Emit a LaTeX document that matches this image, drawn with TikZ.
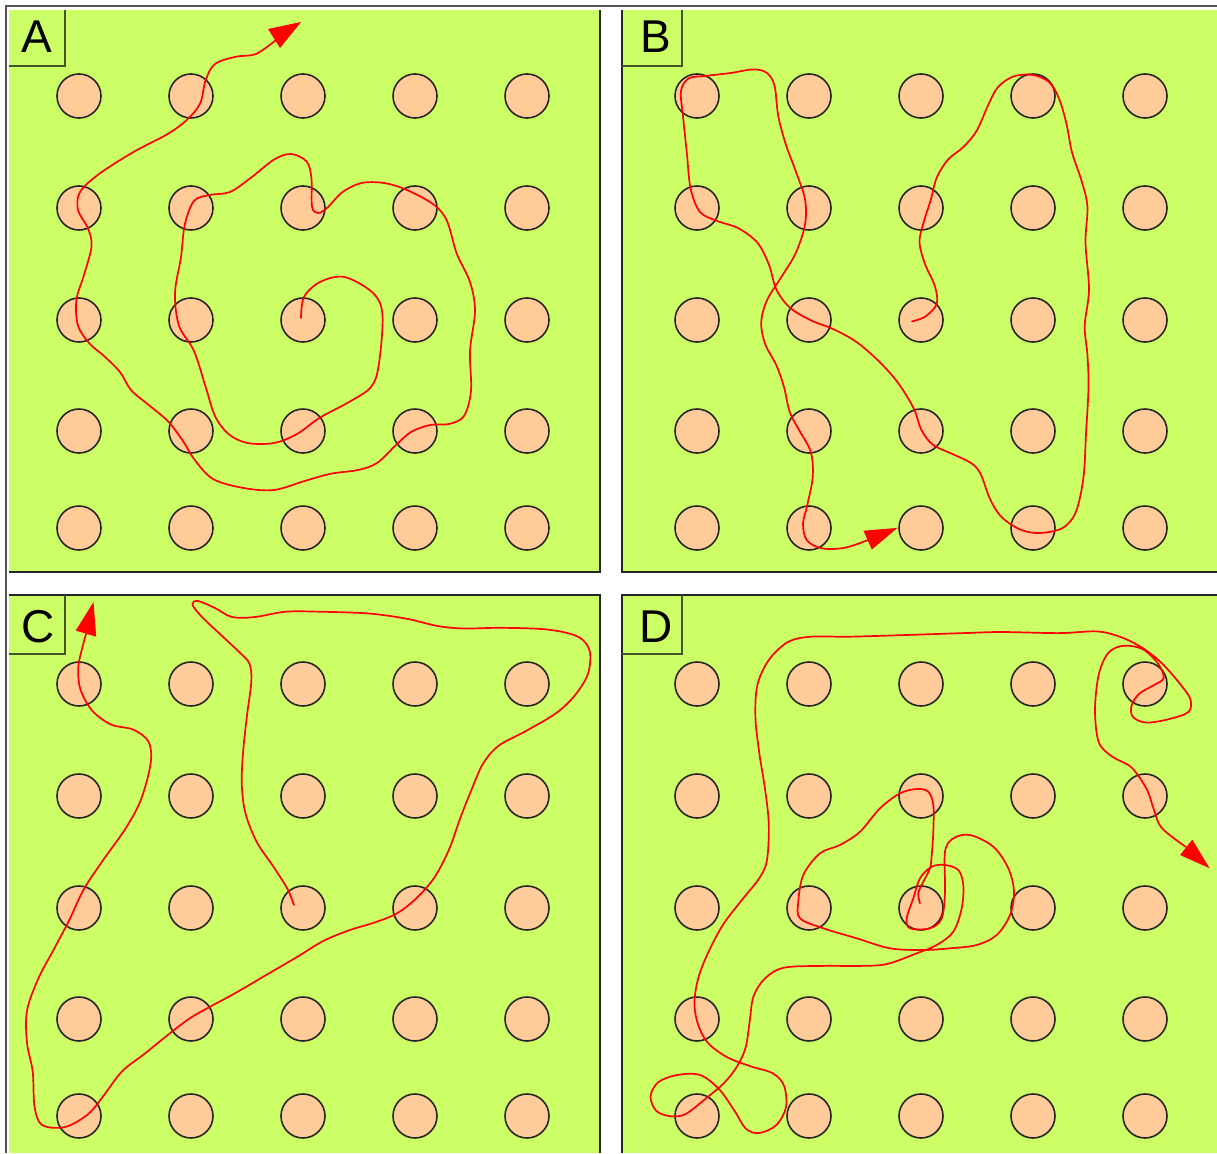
\documentclass[tikz,border=0pt]{standalone}
\usepackage{fontspec}
\newfontfamily\labfont{Liberation Sans}
\definecolor{lime1}{RGB}{204,255,102}
\definecolor{peach}{RGB}{255,204,153}
\definecolor{olive1}{RGB}{70,85,40}
\definecolor{frame1}{RGB}{85,85,85}
\begin{document}
\begin{tikzpicture}[x=1pt,y=-1pt,
  dot/.style={circle,draw=black!85,fill=peach,line width=1.6pt,minimum size=44pt,inner sep=0pt},
  walk/.style={draw=red,line width=1.7pt,line join=round,line cap=round},
  arrowfill/.style={fill=red},
  panelfill/.style={fill=lime1},
  pedge/.style={draw=black!85,line width=1.3pt},
  boxedge/.style={draw=olive1,line width=1.5pt},
  lab/.style={anchor=base,inner sep=0pt,font=\labfont\fontsize{46}{50}\selectfont}]
\useasboundingbox (0,0) rectangle (1217,1153);
\fill[white] (0,0) rectangle (1217,1153);
% panels
\fill[panelfill] (9,10) rectangle (600,572);
\fill[panelfill] (622,10) rectangle (1217,572);
\fill[panelfill] (9,595) rectangle (600,1153);
\fill[panelfill] (622,595) rectangle (1217,1153);
\draw[pedge] (600,10) -- (600,572) -- (9,572);
\draw[pedge] (622,10) -- (622,572) -- (1217,572);
\draw[pedge] (9,595) -- (600,595) -- (600,1153);
\draw[pedge] (1217,595) -- (622,595) -- (622,1153);
% outer frame
\draw[frame1,line width=1.2pt] (6,1153) -- (6,6) -- (1217,6);
% label boxes
\draw[boxedge] (9,66) -- (65,66) -- (65,10);
\draw[boxedge] (622,66) -- (682,66) -- (682,10);
\draw[boxedge] (9,654) -- (65,654) -- (65,595);
\draw[boxedge] (622,654) -- (682,654) -- (682,595);
\node[lab] (labA) at (36.5,53) {A};
\node[lab] (labB) at (656,53) {B};
\node[lab] (labC) at (38,642) {C};
\node[lab] (labD) at (656.5,642) {D};
% circles
\foreach \P/\ox/\oy in {A/0/0,B/618/0,C/0/588,D/618/588}{
  \foreach \c [count=\i] in {79,191,303,415,527}{
    \foreach \r [count=\j] in {96,208,320,431,528}{
      \node[dot] (\P\i\j) at (\c+\ox,\r+\oy) {};
    }
  }
}
% walk A
\draw[walk] plot[smooth,tension=0.55] coordinates {
(301,318) (304,297) (320,282) (344.5,277) (373,293) (382.5,315) (378.7,365.4) (371,387) (350,401.5) (319.8,417.7) (297,434) (274,443) (247.5,443) (228.5,434) (215,416) (205.7,387) (194,351) (179,325.7) (175,293) (181,257) (184.8,224.6) (194,201) (209.5,195) (230,192) (251,177.7) (274,159.6) (291,154) (306.5,161.4) (311.4,177.7) (312,206.6) (318,213) (327,208) (342.6,192) (361.6,183) (384,183) (407,190) (434,204.8) (447,221) (456.7,253.5) (470,282) (475,311) (470,351) (471,390.7) (464,416) (449,424) (430,425) (411,432) (396,445) (377,463) (358,470) (331,473.7) (304.6,481) (274,490) (243.7,488) (213,479) (194,459) (183,441) (167.7,421) (148.7,405) (131,390) (120,372) (104,356) (89.7,343.7) (78,325.7) (76.4,300) (84,275) (91.6,246) (87.8,228) (78,210) (80,192) (99,174) (133.5,152) (167.7,134) (186.7,120) (200,103.7) (205.7,80) (215,64) (236,56.7) (256,54) (276,40)};
\fill[arrowfill] (301,22) -- (268,29) -- (280,48) -- cycle;
% walk B
\draw[walk] plot[smooth,tension=0.55] coordinates {
(912,321.4) (925,316.7) (936.7,304) (934.8,286) (925,264) (919.5,242.7) (923,224.6) (931,199) (936.7,177.7) (948,159.6) (963.4,147) (976.7,130.7) (988,105.5) (997.7,87.4) (1013,76.6) (1032,74.8) (1049,82) (1058.8,98) (1066.4,123.5) (1072,152.4) (1081.6,181) (1087.4,206.6) (1085.5,242.7) (1089,289.6) (1084.7,325.7) (1087.4,354.6) (1088.5,387) (1086,434) (1083.5,477) (1076,511.6) (1062.6,528) (1039.7,533) (1020.6,529.7) (1001.5,517) (990,499) (980.5,473.7) (971,463) (952,453.8) (932.9,444.8) (921.4,430) (913.8,408.7) (898.5,383.5) (879.4,361.8) (856.5,342) (833.7,329.3) (810.8,320.3) (789.8,307.6) (776.4,289.6) (768.8,264.3) (757.4,242.7) (738.3,228.2) (717.3,221) (700,212) (690.6,188.5) (686.8,152.4) (683,116.3) (681,91) (688.7,78.4) (705.8,75.9) (730.6,73) (753.5,69.4) (766.9,73) (774.5,85.6) (778.3,116.3) (786,145) (795.5,170.5) (805,199.3) (805,224.6) (795.5,253.5) (780.2,278.8) (766.9,300.4) (761.2,322) (765,343.7) (776.4,365.4) (784,387) (789.8,412.3) (799.3,430.4) (810.8,452) (812.7,477.3) (807,506.2) (803,524) (807,540.5) (822.2,548.4) (845,547.7) (868,540)};
\fill[arrowfill] (897.4,527.9) -- (863.4,530.7) -- (871.8,549.5) -- cycle;
% walk C
\draw[walk] plot[smooth,tension=0.55] coordinates {
(294,905) (287.5,889) (274,867.5) (257,842.4) (245.6,813.8) (241.8,785) (243,753) (246.8,717) (251.3,681.4) (249.4,663.6) (240,652.8) (221,635) (202,617) (192.4,604.5) (198,601) (215,608) (232,617) (255,617) (285.6,611.7) (319.8,611.7) (369,613.5) (407,618.8) (437.7,626) (464,628.5) (502,627.8) (548,629.6) (578,636.7) (589.7,651) (587.8,674.3) (574.5,695.8) (555.5,713.6) (525,731.5) (498.5,745.8) (483,763.7) (471.9,788.8) (460.5,817.4) (449,849.6) (433.9,878.2) (414.8,899.7) (395.8,914) (373,923) (350,930) (323.6,940.8) (297,957) (266.5,974.8) (236,992.7) (209.5,1007) (190.5,1017.8) (171.5,1032) (144.9,1053.5) (122,1071.4) (103,1096.5) (87.8,1114.4) (65,1127) (42.2,1125) (34.6,1107) (32.7,1071.4) (27,1042.8) (27,1010.6) (38.4,978.4) (53.6,949.8) (68.8,921) (84,889) (103,860.3) (125.9,828) (141,799.5) (150.6,763.7) (148.7,742) (133.5,729.7) (110.7,724.4) (91.6,710) (80.2,688.6) (78.3,667) (82,649) (86,634)};
\fill[arrowfill] (93.5,602) -- (75.7,630.6) -- (96.2,636.7) -- cycle;
% walk D
\draw[walk] plot[smooth,tension=0.55] coordinates {
(920,903.3) (918.3,893.3) (923.3,881.7) (930,868.3) (931.7,855) (933.3,831.7) (933.3,805) (928.3,791.7) (916.7,789) (900,793.3) (880,808.3) (860,831.7) (840,845) (820,853.3) (803.3,875) (798.3,901.7) (800,918.3) (823.3,928.3) (856.7,938.3) (890,948.3) (923.3,950) (950,948.3) (976.7,945) (996.7,935) (1010,915) (1014,891.7) (1008.3,868.3) (993.3,846.7) (970,835) (953.3,838.3) (945,851.7) (945,891.7) (941.7,918.3) (930,928.3) (910,928.3) (906.7,918.3) (913.3,898.3) (920,878.3) (931.7,866.7) (945,865) (958.3,870) (963.3,885) (961.7,908.3) (953.3,931.7) (936.7,945) (916.7,953.3) (887,964) (860.4,965.9) (822.2,965.9) (784,967.7) (765,978.4) (753.5,996.3) (749.7,1021.3) (745.9,1046.4) (738.3,1064.3) (725,1082) (704,1100) (684.9,1114.4) (669.6,1116.1) (656.2,1110.8) (650.5,1096.5) (658.2,1082.2) (677.2,1075) (700.1,1075) (719.2,1089.3) (734.5,1110.8) (745.9,1128.7) (759.3,1133) (776.4,1125) (786,1107.2) (784,1085.7) (772.6,1073.2) (749.7,1066) (726.8,1057) (707.8,1042.8) (698.2,1024.9) (694.4,1003.4) (698.2,978.4) (707.8,953.4) (723,924.7) (742.1,899.7) (759.3,878.2) (766.9,860.3) (768.8,824.6) (765,788.8) (759.3,753) (755.4,717.2) (757.4,685) (768.8,660) (787.9,642) (810.8,636.7) (848.9,636.7) (906.2,635) (963.4,633.1) (1001.5,632) (1058.8,633.1) (1096.9,631.4) (1119.8,636.7) (1138.9,645.7) (1154.1,656.4) (1165.6,667.1) (1180.9,685) (1190.4,699.3) (1188.5,711.9) (1169.4,719) (1146.5,722.6) (1133.2,717.2) (1131.3,706.5) (1138.9,694) (1154.1,685) (1163.7,677.9) (1158,663.6) (1142.7,649.2) (1123.6,645.7) (1108.4,652.8) (1098.8,674.3) (1095,710) (1098.8,742.3) (1112.2,756.6) (1131.3,767.3) (1146.5,788.8) (1154.1,810.2) (1161.8,828.1) (1186,847)};
\fill[arrowfill] (1209.5,868.2) -- (1180.1,855) -- (1192.3,839.6) -- cycle;
\end{tikzpicture}
\end{document}
